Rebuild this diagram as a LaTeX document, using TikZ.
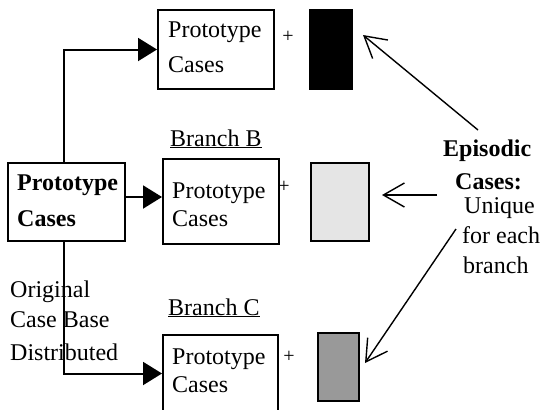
\documentclass[tikz,border=0pt]{standalone}
\usepackage{fontspec}
\setmainfont{Liberation Serif}
\usetikzlibrary{arrows.meta,calc}
\begin{document}
\begin{tikzpicture}[x=1pt,y=-1pt,
  txt/.style={inner sep=0pt, anchor=base west, font=\fontsize{24}{28}\selectfont},
  btxt/.style={inner sep=0pt, anchor=base west, font=\fontsize{24}{28}\selectfont\bfseries},
  plus/.style={inner sep=0pt, font=\fontsize{20}{24}\selectfont},
  box/.style={draw, line width=2pt, inner sep=0pt, anchor=north west},
  conn/.style={line width=2pt, -{Triangle[length=19pt,width=23pt]}},
  epi/.style={line width=1.4pt, -{Straight Barb[length=21pt,width=24pt,line width=1.4pt]}}]
\clip (0,0) rectangle (542,410);
\fill[white] (0,0) rectangle (542,410);
% boxes
\node[box, minimum width=116pt, minimum height=79pt] (top) at (157,9) {};
\node[box, minimum width=117pt, minimum height=78pt] (left) at (7,162) {};
\node[box, minimum width=116pt, minimum height=85pt] (B) at (162,158) {};
\node[box, minimum width=115pt, minimum height=95pt] (C) at (162,334) {};
% episodic rectangles
\node[box, fill=black, minimum width=42pt, minimum height=79pt] (rA) at (309,9) {};
\node[box, fill=gray!20, minimum width=58pt, minimum height=78pt] (rB) at (310,162) {};
\node[box, fill=black!40, minimum width=41pt, minimum height=68pt] (rC) at (317,332) {};
% box texts
\node[txt] (tA1) at (168,37) {Prototype};
\node[txt] (tA2) at (168,72) {Cases};
\node[txt] (tB1) at (172,198) {Prototype};
\node[txt] (tB2) at (172,226) {Cases};
\node[txt] (tC1) at (172,364) {Prototype};
\node[txt] (tC2) at (172,392) {Cases};
\node[btxt] (tL1) at (17,190) {Prototype};
\node[btxt] (tL2) at (17,226) {Cases};
% labels
\node[txt] (lB) at (170,146) {\underline{Branch B}};
\node[txt] (lC) at (168,315) {\underline{Branch C}};
\node[txt] (o1) at (10,297) {Original};
\node[txt] (o2) at (10,327) {Case Base};
\node[txt] (o3) at (10,360) {Distributed};
\node[btxt] (e1) at (443,156) {Episodic};
\node[btxt] (e2) at (455,189) {Cases:};
\node[txt] (e3) at (464,213) {Unique};
\node[txt] (e4) at (462,243) {for each};
\node[txt] (e5) at (463,273) {branch};
% plus signs
\node[plus] (pA) at (288,37) {+};
\node[plus] (pB) at (284,187) {+};
\node[plus] (pC) at (289,357) {+};
% connectors
\draw[conn] ([xshift=-2.5pt]left.north) |- (top.west);
\draw[conn] ([yshift=5pt]left.east) -- ([yshift=5pt]left.east -| B.west);
\draw[conn] ([xshift=-2.5pt]left.south) |- ([yshift=9pt]C.west);
% episodic arrows
\coordinate (t1) at (478,130); \coordinate (t2) at (363,35);
\coordinate (m1) at (437,195); \coordinate (m2) at (382,195);
\coordinate (b1) at (456,229); \coordinate (b2) at (365,363);
\draw[epi] (t1) -- (t2);
\draw[epi] (m1) -- (m2);
\draw[epi] (b1) -- (b2);
\end{tikzpicture}
\end{document}
